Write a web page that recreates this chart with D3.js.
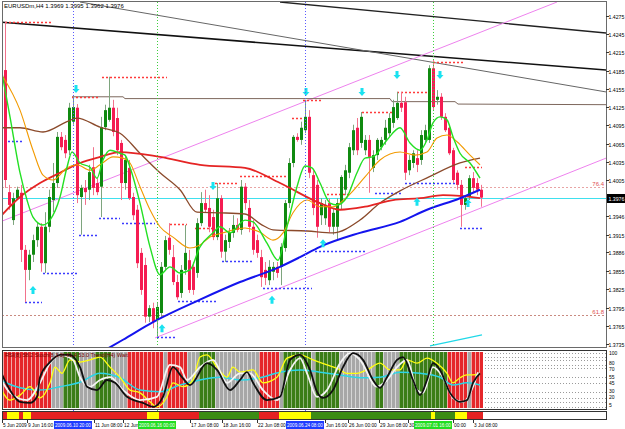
<!DOCTYPE html>
<html><head><meta charset="utf-8">
<script src="https://cdn.jsdelivr.net/npm/d3@7/dist/d3.min.js"></script>
<style>body{margin:0;background:#fff;overflow:hidden}svg{display:block}text{font-family:"Liberation Sans",Arial,sans-serif}</style>
</head><body>
<svg id="c" width="625" height="429"></svg>
<script>
// ---------- DATA ----------
const symbolTitle = "EURUSDm,H4  1.3969 1.3995 1.3962 1.3976";
const lastPrice = 1.3976;
const opens=[1.4186,1.3985,1.3939,1.3975,1.3984,1.3890,1.3857,1.3882,1.3906,1.3928,
1.3868,1.3928,1.3972,1.4000,1.4076,1.4071,1.4054,1.4101,1.4124,1.3977,
1.3992,1.3989,1.4026,1.4000,1.3994,1.4092,1.4104,1.4124,1.4107,1.4066,
1.4000,1.4025,1.3977,1.3956,1.3885,1.3865,1.3780,1.3794,1.3775,1.3786,
1.3862,1.3910,1.3878,1.3837,1.3819,1.3857,1.3873,1.3862,1.3852,1.3934,
1.3967,1.3959,1.3944,1.3911,1.3975,1.3887,1.3903,1.3918,1.3931,1.3923,
1.3994,1.3959,1.3928,1.3906,1.3878,1.3857,1.3840,1.3854,1.3862,1.3862,
1.3893,1.3967,1.4033,1.4076,1.4071,1.4087,1.4109,1.4013,1.3997,1.3947,
1.3942,1.3967,1.3928,1.3928,1.3967,1.3989,1.4017,1.4054,1.4091,1.4066,
1.4054,1.4071,1.4025,1.4046,1.4059,1.4071,1.4082,1.4099,1.4107,1.4132,
1.4133,1.4021,1.4033,1.4041,1.4038,1.4071,1.4071,1.4189,1.4137,1.4142,
1.4109,1.4091,1.4054,1.4017,1.3997,1.3964,1.3977,1.4008,1.4000,1.3989];
const highs=[1.4265,1.3997,1.3984,1.3994,1.3997,1.3898,1.3890,1.3915,1.3936,1.3934,
1.3952,1.3989,1.4033,1.4084,1.4084,1.4079,1.4132,1.4142,1.4130,1.3997,
1.4005,1.4030,1.4059,1.4008,1.4109,1.4129,1.4175,1.4137,1.4124,1.4071,
1.4046,1.4038,1.3984,1.3964,1.3893,1.3877,1.3799,1.3803,1.3803,1.3870,
1.3913,1.3934,1.3898,1.3849,1.3865,1.3931,1.3890,1.3870,1.3942,1.3985,
1.3989,1.3980,1.3956,1.4000,1.3980,1.3915,1.3926,1.3947,1.3942,1.4005,
1.4000,1.3972,1.3939,1.3915,1.3890,1.3870,1.3873,1.3870,1.3870,1.3901,
1.3972,1.4041,1.4079,1.4082,1.4101,1.4137,1.4120,1.4021,1.4005,1.3975,
1.3972,1.3975,1.3959,1.3975,1.4013,1.4030,1.4066,1.4096,1.4107,1.4117,
1.4079,1.4079,1.4054,1.4074,1.4076,1.4104,1.4115,1.4137,1.4150,1.4150,
1.4142,1.4046,1.4054,1.4054,1.4087,1.4096,1.4194,1.4203,1.4153,1.4148,
1.4115,1.4096,1.4058,1.4021,1.4005,1.3980,1.4013,1.4018,1.4008,1.3997];
const lows=[1.3992,1.3956,1.3931,1.3972,1.3870,1.3804,1.3840,1.3870,1.3895,1.3854,
1.3852,1.3919,1.3952,1.3992,1.4054,1.4041,1.4046,1.4096,1.3967,1.3915,
1.3964,1.3972,1.3980,1.3980,1.3944,1.4087,1.4101,1.4077,1.4046,1.3972,
1.3989,1.3972,1.3939,1.3860,1.3816,1.3770,1.3771,1.3761,1.3747,1.3778,
1.3857,1.3882,1.3832,1.3808,1.3811,1.3849,1.3819,1.3816,1.3844,1.3929,
1.3952,1.3919,1.3906,1.3906,1.3877,1.3870,1.3893,1.3910,1.3919,1.3915,
1.3956,1.3919,1.3882,1.3877,1.3829,1.3832,1.3832,1.3840,1.3844,1.3832,
1.3887,1.3959,1.4026,1.4068,1.4063,1.4082,1.4008,1.3947,1.3910,1.3931,
1.3931,1.3919,1.3915,1.3906,1.3956,1.3980,1.4008,1.4046,1.4046,1.4058,
1.4046,1.3984,1.4018,1.4038,1.4054,1.4063,1.4076,1.4091,1.4104,1.4117,
1.4005,1.4013,1.4025,1.4018,1.4030,1.4066,1.4066,1.4120,1.4129,1.4104,
1.4084,1.4046,1.4000,1.3989,1.3928,1.3956,1.3972,1.3985,1.3980,1.3961];
const closes=[1.4005,1.3964,1.3975,1.3989,1.3890,1.3857,1.3882,1.3906,1.3928,1.3868,
1.3928,1.3977,1.4000,1.4076,1.4059,1.4049,1.4124,1.4125,1.3980,1.3992,
1.3985,1.4018,1.3992,1.3985,1.4092,1.4120,1.4124,1.4084,1.4054,1.4000,
1.4038,1.3975,1.3947,1.3868,1.3824,1.3780,1.3794,1.3771,1.3796,1.3862,
1.3906,1.3890,1.3837,1.3812,1.3857,1.3885,1.3824,1.3824,1.3934,1.3967,
1.3956,1.3928,1.3911,1.3975,1.3887,1.3906,1.3918,1.3931,1.3923,1.3994,
1.3967,1.3928,1.3890,1.3885,1.3845,1.3844,1.3862,1.3862,1.3852,1.3895,
1.3967,1.4033,1.4076,1.4071,1.4091,1.4109,1.4017,1.3959,1.3928,1.3967,
1.3964,1.3928,1.3951,1.3967,1.4010,1.4021,1.4059,1.4087,1.4054,1.4109,
1.4071,1.4043,1.4046,1.4071,1.4071,1.4091,1.4107,1.4125,1.4132,1.4124,
1.4017,1.4038,1.4049,1.4030,1.4079,1.4087,1.4189,1.4125,1.4142,1.4109,
1.4087,1.4049,1.4005,1.3997,1.3964,1.3975,1.4008,1.3992,1.3989,1.3976];

// moving averages read at sample bars: [bar, price]
const maGreen=[[-0.75,1.4181],[1.25,1.4109],[3.75,1.4017],[5.5,1.3972],[7,1.3944],[9.5,1.3931],[11.25,1.3939],[13.75,1.3977],[15.5,1.4026],[16.75,1.4051],[18.75,1.4033],[21.25,1.4026],[23,1.4008],[24.5,1.4038],[26.25,1.4054],[28.75,1.4049],[30,1.4046],[31.25,1.4026],[33.75,1.3967],[36.25,1.3895],[38.75,1.3849],[41.25,1.3862],[43.75,1.3852],[46.25,1.3857],[48.75,1.3895],[52,1.3918],[53.75,1.3928],[56.25,1.3918],[60,1.3939],[62,1.3936],[65.5,1.3901],[68.25,1.3873],[70.5,1.3928],[73,1.3994],[75,1.4028],[76.75,1.4025],[78.75,1.4000],[81.25,1.3967],[83,1.3964],[85.5,1.3977],[88,1.4017],[90,1.4041],[92,1.4043],[95.5,1.4071],[98.75,1.4091],[101.25,1.4066],[103.75,1.4054],[105.5,1.4071],[107,1.4099],[108.75,1.4109],[110.5,1.4104],[112,1.4076],[113.75,1.4049],[116.25,1.4033],[118.75,1.4008]];
const maOrange=[[-0.5,1.4175],[3.75,1.4120],[7,1.4054],[9.5,1.4013],[12,1.4005],[15.5,1.4025],[18,1.4030],[21.25,1.4021],[23.75,1.4030],[27,1.4043],[29.5,1.4041],[31.25,1.4033],[33.75,1.3994],[36.25,1.3956],[38.75,1.3928],[42,1.3911],[46.25,1.3893],[48.75,1.3898],[51.25,1.3911],[54.5,1.3918],[60,1.3926],[63.75,1.3919],[67,1.3906],[69.5,1.3918],[72,1.3951],[75.5,1.3972],[78.75,1.3961],[82,1.3961],[85.5,1.3977],[90,1.4010],[93.75,1.4038],[98.75,1.4051],[102.5,1.4046],[105.5,1.4051],[108,1.4074],[110.5,1.4079],[113,1.4068],[116.25,1.4046],[118.75,1.4030]];
const maRed=[[-1.25,1.3944],[3.75,1.3977],[8.75,1.4000],[13.75,1.4017],[18.75,1.4033],[23.75,1.4043],[28.75,1.4051],[38.75,1.4043],[48.75,1.4030],[60,1.4025],[68.75,1.4000],[78.75,1.3967],[83.75,1.3956],[90,1.3961],[97,1.3972],[103.75,1.3975],[109.5,1.3980],[113.75,1.3979],[118.75,1.3975]];
const maBrown=[[-1,1.4091],[3.75,1.4091],[9.5,1.4084],[15.5,1.4101],[18,1.4107],[23.75,1.4092],[28.75,1.4082],[33.75,1.4049],[38.75,1.4017],[43.75,1.3989],[48,1.3952],[53.75,1.3951],[60,1.3949],[64,1.3932],[67,1.3923],[75.5,1.3921],[82,1.3918],[88.75,1.3939],[93.75,1.3967],[98.75,1.3987],[106,1.4010],[113.75,1.4033],[118.75,1.4041]];
const maBlue=[[25,1.3725],[29.5,1.3742],[37,1.3771],[48.75,1.3808],[58.75,1.3837],[68.75,1.3862],[73.75,1.3878],[78.75,1.3895],[88.75,1.3918],[98.75,1.3936],[105.5,1.3956],[113.75,1.3975],[118.75,1.3989]];

// trend lines: [bar1, price1, bar2, price2, width, colour]
const blackLines=[[-1.25,1.4265,150.25,1.4186,1.6,"#111"],[68.75,1.4298,150.25,1.4247,1.4,"#222"],[18.75,1.4298,150.25,1.4150,1,"#666"]];
const channelLines=[[-1.25,1.3936,138,1.4298],[37.5,1.3745,150.25,1.4041]];
const levelLine=[[16.75,1.4142],[29.5,1.4142],[30,1.4139],[96.25,1.4139],[96.75,1.4134],[112.5,1.4134],[113.25,1.4130],[150.25,1.4129]];
const cyanSeg=[[106.25,1.3732],[119.25,1.3750]];
const fibLevels=[[1.3994,"76.4","#e8a4a4"],[1.3783,"61.8","#c98a80"]];
const resistance=[[0,12,1.4265],[16.75,23.75,1.4142],[24.25,40.5,1.4175],[41.25,45.5,1.3933],[47.5,52,1.3926],[52.5,58.25,1.4000],[58.75,70.75,1.4012],[71.75,74.25,1.4107],[74.5,79.5,1.4137],[80.5,86.25,1.3982],[89.25,97,1.4117],[98,105.75,1.4150],[107,115,1.4199],[115,119.25,1.4026]];
const support=[[-1.25,4.25,1.4069],[5,9.25,1.3804],[9.5,18,1.3852],[18.5,23,1.3915],[23.5,28.75,1.3942],[29.25,37.5,1.3934],[38,42.5,1.3747],[43.25,53,1.3806],[54.25,61.75,1.3872],[64.5,76.75,1.3827],[77.5,90,1.3888],[92.5,99.5,1.3984],[100,113,1.4000],[113.75,119.25,1.3926]];
const upArrows=[[7,1.3824],[39.25,1.3761],[66.75,1.3808],[79.5,1.3901],[103,1.3969],[115.75,1.3967]];
const downArrows=[[17.75,1.4155],[52,1.3995],[75.25,1.4150],[89.25,1.4150],[98,1.4178],[108.75,1.4178]];
const vLines=[[17,"#5a5aff"],[38,"#3ccf3c"],[75,"#5a5aff"],[107,"#3ccf3c"]];
const priceTicks=[1.4275,1.4245,1.4215,1.4185,1.4155,1.4125,1.4095,1.4065,1.4035,1.4005,1.3946,1.3915,1.3886,1.3855,1.3825,1.3795,1.3765,1.3735];

// oscillator window
const stripeRuns=[[12,"r"],[3,"n"],[4,"g"],[4,"n"],[4,"g"],[4,"n"],[9,"r"],[1,"n"],[5,"r"],[3,"n"],[4,"g"],[11,"n"],[5,"r"],[1,"n"],[7,"g"],[1,"n"],[6,"g"],[9,"n"],[2,"g"],[4,"n"],[12,"g"],[5,"r"],[1,"n"],[3,"r"]];
const barRuns=[[1,"r"],[3,"y"],[1,"r"],[2,"y"],[29,"r"],[3,"y"],[10,"r"],[15,"g"],[5,"r"],[8,"y"],[30,"g"],[1,"y"],[5,"g"],[3,"y"],[4,"r"]];
const oscBlack=[[-1.25,68],[1.25,32],[3.75,11],[6.25,9],[8,20],[8.75,55],[11.25,82],[13.75,95],[16.25,95],[18.75,73],[20.5,38],[23,32],[25.5,50],[27.5,45],[30.5,20],[34.5,9],[37,2],[39.5,20],[42,73],[44.25,55],[46.25,41],[50.5,80],[53,68],[56.25,32],[58.75,50],[60.5,64],[62,45],[65.5,14],[68.75,20],[71.25,86],[73.75,95],[76.25,68],[78,29],[79.5,18],[82,32],[84.5,73],[87,98],[89.5,86],[92,50],[93.75,36],[95.5,55],[98,86],[99.5,91],[102,50],[103.75,23],[105.5,50],[107,80],[108.75,68],[111.25,27],[113.75,11],[115.5,14],[117,45],[118.75,62]];
const oscWhite=[[-1.25,55],[1.25,27],[5.5,14],[8.75,45],[11.25,80],[13.75,95],[17,86],[18.75,55],[21.25,38],[23.75,50],[26.25,55],[29.5,32],[33.75,14],[38,20],[41.25,77],[43.75,73],[45.5,50],[48.75,73],[52,86],[55.5,45],[58.75,62],[61.25,62],[64.5,32],[68,14],[71.25,68],[73.75,89],[75.5,62],[78,20],[80.5,32],[83.75,80],[86.25,98],[88.75,86],[93,38],[95.5,50],[98,73],[100.5,86],[103,32],[104.5,27],[107,73],[109.5,55],[112,18],[114.5,11],[117,38],[118.25,64]];
const oscYellow=[[-1.25,38],[1.25,14],[3.75,23],[6.25,38],[8.75,18],[11.25,45],[12.5,73],[14.25,62],[16.25,86],[18.75,82],[21.25,86],[23.75,91],[26.25,73],[28.75,55],[31.25,32],[33.75,27],[36.25,11],[38,2],[40.5,20],[42,45],[44.5,38],[47,50],[48.75,91],[50.5,95],[53,73],[55.5,55],[57,73],[58.75,64],[62,68],[64.5,45],[68,55],[70.5,89],[73.75,95],[77,86],[80.5,77],[83,71],[85.5,62],[88,62],[90.5,68],[93.75,80],[96.25,68],[98.75,68],[100.5,86],[103,80],[105.5,89],[108,80],[110.5,62],[112,45],[113.75,54],[115.5,59],[117,59],[118.75,62]];
const oscCyan=[[-1.25,50],[3.75,36],[8.75,32],[13.75,38],[18.75,46],[23.75,62],[28.75,54],[33.75,32],[38.75,29],[43.75,41],[48.75,50],[53.75,55],[58.75,50],[63.75,54],[68.75,64],[73.75,68],[78.75,64],[83.75,59],[88.75,54],[93.75,55],[98.75,64],[103.75,62],[108.75,55],[112,41],[115.5,45],[118.75,41]];
const oscLevels=[98,91,86,77,71,55,45,29,18,11,2];
const oscLabels=[[98,"100"],[80,"80"],[70,"70"],[55,"55"],[45,"45"],[30,"30"],[20,"20"],[5,"5"]];
const oscTitle="RSI(8) 58.2 Stoch(8,3,3) 61.4 53.0 Trend(H4) Wait";

// time axis: visible label pieces [bar, text]
const timeLabels=[[-0.75,"5 Jun 2009"],[5.5,"9 Jun 16:00"],[22.25,"11 Jun 08:00"],[29.5,"12 Jun"],[46.25,"17 Jun 08:00"],[54.25,"18 Jun 16:00"],[63,"22 Jun 08:00"],[80,"Jun 16:00"],[85.75,"26 Jun 00:00"],[93.5,"29 Jun 08:00"],[100.75,"30"],[112,"00:00"],[117,"3 Jul 08:00"]];
const timeBoxes=[[17,"2009.06.10 20:00","#1f3cff","#fff"],[38,"2009.06.16 00:00","#22dd22","#fff"],[75,"2009.06.24 08:00","#1f3cff","#fff"],[107,"2009.07.01 16:00","#22dd22","#fff"]];

// ---------- DRAW ----------
const svg=d3.select("#c");
const L=2,R=606,T=2,B=347;
const x=d3.scaleLinear().domain([0,119]).range([5,481]);
const y=d3.scaleLinear().domain([1.3735,1.4275]).range([344,16]);
const yo=d3.scaleLinear().domain([0,100]).range([408,352]);

const defs=svg.append("defs");
defs.append("clipPath").attr("id","cm").append("rect").attr("x",L).attr("y",T).attr("width",R-L).attr("height",B-T);
defs.append("clipPath").attr("id","co").append("rect").attr("x",L).attr("y",351).attr("width",R-L).attr("height",59);

svg.append("rect").attr("width",625).attr("height",429).attr("fill","#fff");
const main=svg.append("g").attr("clip-path","url(#cm)");

fibLevels.forEach(f=>{
  main.append("line").attr("x1",L).attr("x2",R).attr("y1",Math.round(y(f[0]))+0.5).attr("y2",Math.round(y(f[0]))+0.5)
    .attr("stroke",f[2]).attr("stroke-dasharray","2,2");
  main.append("text").attr("x",604).attr("y",Math.round(y(f[0]))-1).attr("text-anchor","end").attr("font-size",6).attr("fill","#e05050").text(f[1]);
});
main.append("line").attr("x1",L).attr("x2",R).attr("y1",Math.round(y(lastPrice))+0.5).attr("y2",Math.round(y(lastPrice))+0.5).attr("stroke","#3fe0ee");

vLines.forEach(v=>{
  svg.append("line").attr("x1",Math.round(x(v[0]))+0.5).attr("x2",Math.round(x(v[0]))+0.5).attr("y1",T).attr("y2",420)
    .attr("stroke",v[1]).attr("stroke-dasharray","1,2");
});

const lg=d3.line().x(d=>x(d[0])).y(d=>y(d[1]));
blackLines.forEach(b=>main.append("path").attr("d",lg([[b[0],b[1]],[b[2],b[3]]])).attr("stroke",b[5]).attr("stroke-width",b[4]).attr("fill","none"));
channelLines.forEach(b=>main.append("path").attr("d",lg([[b[0],b[1]],[b[2],b[3]]])).attr("stroke","#ee82ee").attr("stroke-width",1).attr("fill","none"));
main.append("path").attr("d",lg(levelLine)).attr("stroke","#7d675c").attr("stroke-width",1).attr("fill","none");
main.append("path").attr("d",lg(cyanSeg)).attr("stroke","#20d8e8").attr("stroke-width",1.2).attr("fill","none");

resistance.forEach(s=>main.append("line").attr("x1",x(s[0])).attr("x2",x(s[1])).attr("y1",Math.round(y(s[2]))+0.5).attr("y2",Math.round(y(s[2]))+0.5).attr("stroke","#ff3b3b").attr("stroke-width",1.3).attr("stroke-dasharray","2,2"));
support.forEach(s=>main.append("line").attr("x1",x(s[0])).attr("x2",x(s[1])).attr("y1",Math.round(y(s[2]))+0.5).attr("y2",Math.round(y(s[2]))+0.5).attr("stroke","#3b3bff").attr("stroke-width",1.3).attr("stroke-dasharray","2,2"));

const cg=main.append("g");
opens.forEach((o,i)=>{
  const c=closes[i],h=highs[i],l=lows[i];
  const xc=Math.round(x(i));
  const bull=c>=o;
  cg.append("line").attr("x1",xc+0.5).attr("x2",xc+0.5).attr("y1",y(h)).attr("y2",y(l)).attr("stroke",bull?"#7ea57e":"#f2728c");
  const top=y(Math.max(o,c)),bot=y(Math.min(o,c));
  cg.append("rect").attr("x",xc-1).attr("y",top).attr("width",3).attr("height",Math.max(1,bot-top))
    .attr("fill",bull?"#108a10":"#f51c52");
});

const lc=d3.line().x(d=>x(d[0])).y(d=>y(d[1])).curve(d3.curveMonotoneX);
[[maBrown,"#8b4a2b",1.3],[maRed,"#e52424",1.8],[maOrange,"#f29a00",1.1],[maGreen,"#23e023",1.4],[maBlue,"#1414ee",2]].forEach(m=>{
  main.append("path").attr("d",lc(m[0])).attr("stroke",m[1]).attr("stroke-width",m[2]).attr("fill","none");
});

function arrow(cx,cy,up){
  const s=up?-1:1;
  const p=[[cx-1.5,cy-4*s],[cx+1.5,cy-4*s],[cx+1.5,cy],[cx+3.5,cy],[cx,cy+4*s],[cx-3.5,cy],[cx-1.5,cy]];
  return "M"+p.map(q=>q.join(",")).join("L")+"Z";
}
upArrows.forEach(a=>main.append("path").attr("d",arrow(x(a[0]),y(a[1]),true)).attr("fill","#19e2f0"));
downArrows.forEach(a=>main.append("path").attr("d",arrow(x(a[0]),y(a[1]),false)).attr("fill","#19e2f0"));

svg.append("text").attr("x",4).attr("y",8).attr("font-size",6).attr("fill","#000").text(symbolTitle);
svg.append("rect").attr("x",L+0.5).attr("y",T-0.5).attr("width",R-L).attr("height",B-T+1).attr("fill","none").attr("stroke","#6a6a6a");

priceTicks.forEach(p=>{
  const yy=Math.round(y(p))+0.5;
  svg.append("line").attr("x1",R).attr("x2",R+3).attr("y1",yy).attr("y2",yy).attr("stroke","#333");
  svg.append("text").attr("x",608.5).attr("y",yy+2).attr("font-size",5.2).attr("fill","#000").text(p.toFixed(4));
});
const py=Math.round(y(lastPrice));
svg.append("rect").attr("x",607).attr("y",py-4).attr("width",18).attr("height",9).attr("fill","#000");
svg.append("text").attr("x",608.5).attr("y",py+2.5).attr("font-size",5.2).attr("fill","#fff").text(lastPrice.toFixed(4));

// ---------- OSCILLATOR ----------
const osc=svg.append("g").attr("clip-path","url(#co)");
osc.append("rect").attr("x",L).attr("y",351).attr("width",R-L).attr("height",59).attr("fill","#fff");
oscLevels.forEach(v=>osc.append("line").attr("x1",L).attr("x2",R).attr("y1",Math.round(yo(v))+0.5).attr("y2",Math.round(yo(v))+0.5).attr("stroke","#9a9a9a").attr("stroke-dasharray","1,2"));
const stripeColor={r:"#e5262a",g:"#3b7d17",n:"#a7a7a7"};
const gapColor={r:"#f3a6a6",g:"#8fb47a",n:"#d6d6d6"};
let states=[];stripeRuns.forEach(r=>{for(let k=0;k<r[0];k++)states.push(r[1]);});
states.forEach((s,i)=>{
  const xc=Math.round(x(i));
  osc.append("rect").attr("x",xc-2).attr("y",352).attr("width",4).attr("height",56).attr("fill",gapColor[s]);
  osc.append("rect").attr("x",xc-1).attr("y",352).attr("width",3).attr("height",56).attr("fill",stripeColor[s]);
});
const lo=d3.line().x(d=>x(d[0])).y(d=>yo(d[1])).curve(d3.curveMonotoneX);
[[oscCyan,"#2ad6e6",1.5],[oscYellow,"#ffff10",1.3],[oscWhite,"#f4f4f4",1.8],[oscBlack,"#111",1.8]].forEach(m=>{
  osc.append("path").attr("d",lo(m[0])).attr("stroke",m[1]).attr("stroke-width",m[2]).attr("fill","none");
});
osc.append("text").attr("x",5).attr("y",357).attr("font-size",5.5).attr("fill","#7a0000").text(oscTitle);
svg.append("rect").attr("x",L+0.5).attr("y",350.5).attr("width",R-L).attr("height",59).attr("fill","none").attr("stroke","#333");
oscLabels.forEach(o=>svg.append("text").attr("x",609).attr("y",yo(o[0])+2).attr("font-size",5).attr("fill","#000").text(o[1]));

const barColor={r:"#e42222",g:"#3c8c14",y:"#ffff00"};
let bs=[];barRuns.forEach(r=>{for(let k=0;k<r[0];k++)bs.push(r[1]);});
bs.forEach((s,i)=>{
  const xc=Math.round(x(i));
  svg.append("rect").attr("x",xc-2).attr("y",412).attr("width",4).attr("height",7).attr("fill",barColor[s]);
});
svg.append("rect").attr("x",L+0.5).attr("y",411.5).attr("width",R-L).attr("height",8).attr("fill","none").attr("stroke","#333");

// time axis
timeLabels.forEach(t=>{
  const xx=Math.round(x(t[0]));
  svg.append("line").attr("x1",xx+0.5).attr("x2",xx+0.5).attr("y1",420).attr("y2",423).attr("stroke","#333");
  svg.append("text").attr("x",xx+1).attr("y",427).attr("font-size",4.8).attr("fill","#000").text(t[1]);
});
timeBoxes.forEach(t=>{
  const xx=Math.round(x(t[0]));
  svg.append("rect").attr("x",xx-19).attr("y",421).attr("width",38).attr("height",8).attr("fill",t[2]);
  svg.append("text").attr("x",xx-18).attr("y",427).attr("font-size",4.6).attr("fill",t[3]).text(t[1]);
});
</script>
</body></html>
